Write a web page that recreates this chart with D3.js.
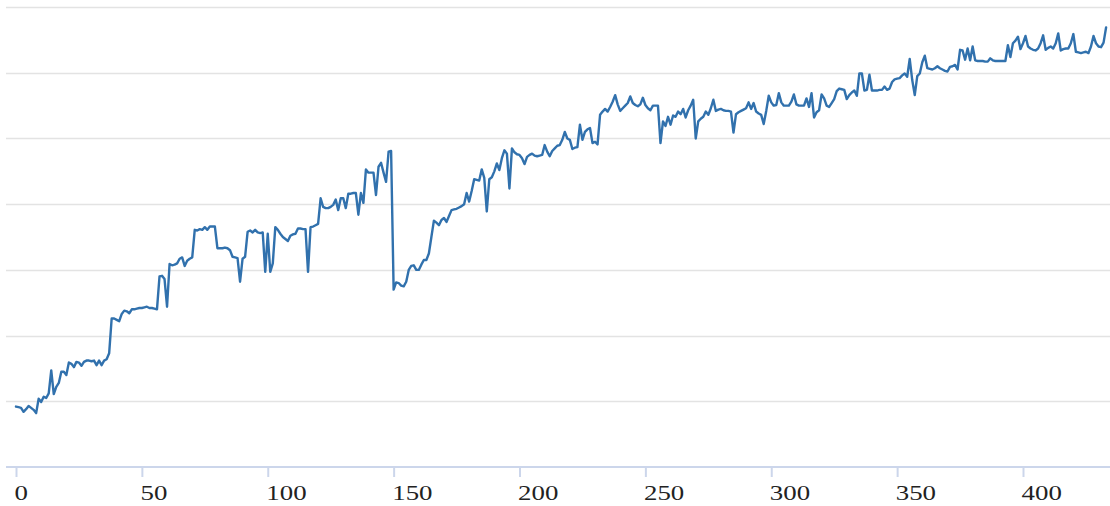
<!DOCTYPE html>
<html>
<head>
<meta charset="utf-8">
<script src="https://cdn.jsdelivr.net/npm/d3@7"></script>
<style>
  html, body { margin: 0; padding: 0; background: #fff; }
  svg { display: block; }
</style>
</head>
<body>
<svg id="chart" width="1110" height="506"></svg>
<script>
// ---- data ----
const values = [
  92, 91, 90, 84, 88, 93, 90, 87, 82, 104,
  99, 107, 105, 112, 147, 111, 122, 128, 145, 145,
  140, 159, 157, 152, 160, 159, 154, 160, 162, 162,
  161, 162, 155, 162, 155, 162, 164, 173, 226, 226,
  224, 222, 233, 238, 237, 234, 240, 240, 241, 242,
  242, 243, 244, 242, 242, 241, 240, 290, 291, 286,
  244, 309, 307, 308, 310, 317, 319, 306, 314, 317,
  319, 361, 360, 362, 361, 365, 361, 366, 366, 366,
  333, 333, 333, 334, 333, 330, 320, 319, 318, 282,
  317, 320, 358, 360, 357, 361, 357, 356, 357, 297,
  355, 297, 310, 365, 361, 355, 350, 347, 344, 352,
  354, 355, 363, 363, 362, 362, 297, 365, 366, 368,
  370, 409, 396, 394, 394, 396, 399, 407, 391, 409,
  409, 394, 416, 416, 417, 417, 384, 417, 402, 453,
  448, 448, 448, 414, 457, 463, 448, 434, 480, 481,
  270, 281, 280, 276, 275, 282, 300, 306, 307, 300,
  300, 308, 315, 315, 325, 350, 375, 372, 368, 376,
  379, 373, 382, 391, 392, 393, 395, 397, 400, 417,
  404, 420, 438, 437, 436, 453, 440, 389, 438, 441,
  450, 462, 452, 470, 482, 477, 424, 485, 479, 476,
  475, 470, 461, 472, 475, 477, 474, 473, 474, 475,
  490, 480, 473, 481, 485, 489, 490, 498, 510, 500,
  498, 484, 486, 487, 521, 498, 510, 514, 516, 493,
  495, 491, 536, 541, 545, 541, 548, 556, 566, 552,
  542, 546, 550, 554, 564, 554, 551, 549, 552, 562,
  551, 546, 543, 550, 550, 550, 493, 526, 519, 533,
  521, 535, 533, 541, 537, 545, 532, 543, 550, 559,
  500, 526, 530, 533, 541, 536, 546, 559, 542, 544,
  545, 543, 542, 542, 541, 509, 537, 540, 542, 544,
  546, 555, 545, 554, 541, 538, 536, 522, 542, 565,
  555, 550, 551, 569, 555, 550, 550, 550, 556, 567,
  552, 550, 550, 550, 561, 548, 569, 532, 540, 543,
  567, 561, 550, 548, 554, 560, 572, 576, 575, 574,
  560, 566, 570, 573, 565, 599, 599, 573, 574, 597,
  573, 573, 573, 574, 574, 579, 574, 576, 586, 590,
  591, 592, 596, 599, 594, 621, 589, 566, 595, 599,
  616, 626, 607, 606, 605, 607, 610, 607, 605, 603,
  602, 609, 610, 612, 605, 635, 634, 620, 637, 619,
  640, 619, 618, 618, 618, 617, 617, 622, 619, 618,
  618, 618, 618, 618, 642, 624, 645, 649, 655, 636,
  645, 656, 640, 637, 635, 634, 637, 645, 657, 635,
  638, 640, 637, 645, 660, 634, 636, 637, 637, 645,
  659, 632, 631, 630, 631, 632, 630, 640, 656, 645,
  640, 639, 646, 669
];
const xTicks = [0, 50, 100, 150, 200, 250, 300, 350, 400];
const yGrid = [100, 200, 300, 400, 500, 600, 700];

// ---- layout ----
const svg = d3.select("#chart");
const plotLeft = 6, plotRight = 1110;
const baseY = 467;

const x = d3.scaleLinear()
  .domain([0, values.length - 1])
  .range([16, 16 + (values.length - 1) * 2.5175]);
const y = d3.scaleLinear()
  .domain([0, 700])
  .range([baseY, baseY - 700 * 0.657]);

// gridlines
svg.append("g")
  .selectAll("line")
  .data(yGrid)
  .join("line")
  .attr("x1", plotLeft)
  .attr("x2", plotRight)
  .attr("y1", d => Math.round(y(d)) + 0.5)
  .attr("y2", d => Math.round(y(d)) + 0.5)
  .attr("stroke", "#e3e3e3")
  .attr("stroke-width", 1.6);

// x axis
const xAxis = d3.axisBottom(x)
  .tickValues(xTicks)
  .tickSize(10)
  .tickPadding(8)
  .tickFormat(d3.format("d"));

const gx = svg.append("g")
  .attr("transform", `translate(0,${baseY})`)
  .call(xAxis);
gx.select(".domain").remove();
gx.insert("line", ":first-child")
  .attr("x1", plotLeft)
  .attr("x2", plotRight)
  .attr("y1", 0)
  .attr("y2", 0)
  .attr("stroke", "#ccd6eb")
  .attr("stroke-width", 2);
gx.selectAll(".tick line")
  .attr("stroke", "#ccd6eb")
  .attr("stroke-width", 2);
gx.selectAll(".tick text")
  .attr("fill", "#222")
  .attr("text-anchor", "start")
  .attr("x", -1.5)
  .attr("transform", "scale(1.28,1)")
  .style("font-family", "'Liberation Serif', 'Times New Roman', serif")
  .style("font-size", "21px");

// line
const line = d3.line()
  .x((d, i) => x(i))
  .y(d => y(d))
  .curve(d3.curveLinear);

svg.append("path")
  .datum(values)
  .attr("fill", "none")
  .attr("stroke", "#3171ad")
  .attr("stroke-width", 2.4)
  .attr("stroke-linejoin", "round")
  .attr("stroke-linecap", "round")
  .attr("d", line);
</script>
</body>
</html>
